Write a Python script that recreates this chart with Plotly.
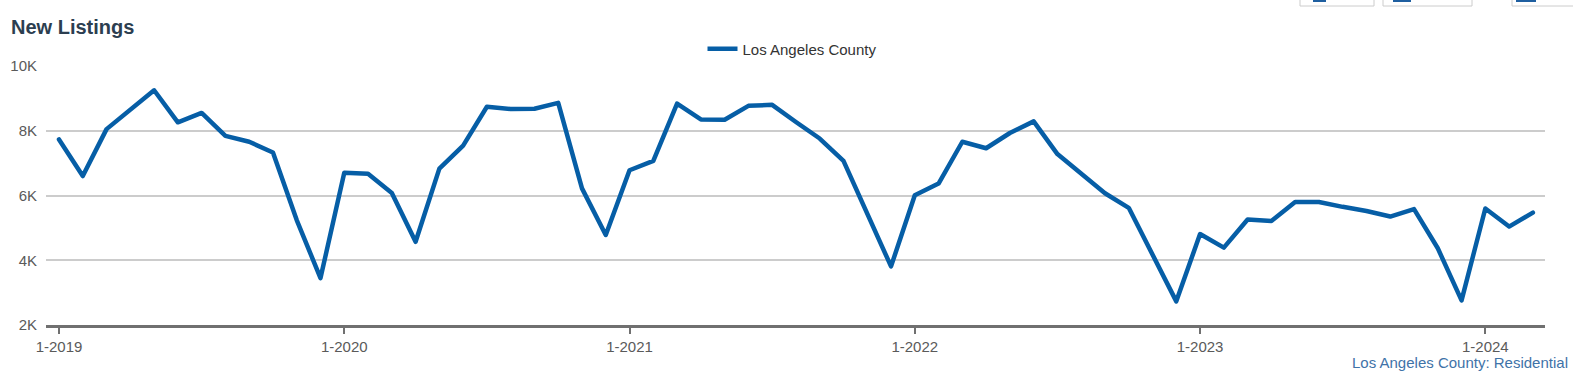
import plotly.graph_objects as go

months = [f"{m}-{y}" for y in range(2019, 2025) for m in range(1, 13)][:63]
values = [
    7730, 6600, 8050, 8650, 9250, 8260, 8550, 7840, 7660, 7330, 5240, 3450,
    6700, 6670, 6080, 4570, 6830, 7540, 8740, 8670, 8680, 8860, 6220, 4780,
    6780, 7070, 8840, 8350, 8340, 8770, 8800, 8270, 7760, 7070, 5450, 3810,
    6010, 6370, 7660, 7460, 7930, 8290, 7280, 6680, 6070, 5620, 4210, 2730,
    4810, 4390, 5260, 5210, 5800, 5800, 5650, 5520, 5350, 5580, 4370, 2760,
    5600, 5040, 5470,
]
series_name = "Los Angeles County"
x_tick_labels = ["1-2019", "1-2020", "1-2021", "1-2022", "1-2023", "1-2024"]
y_tick_vals = [2000, 4000, 6000, 8000, 10000]
y_tick_labels = ["2K", "4K", "6K", "8K", "10K"]

idx = list(range(len(values)))
tick_pos = [months.index(t) for t in x_tick_labels]

W, H = 1573, 375
L, R, T, B = 46, 28, 66, 50
pw, ph = W - L - R, H - T - B

def px(x):
    return (x - L) / pw

def py(y):
    return (H - B - y) / ph

fig = go.Figure()
fig.add_trace(go.Scatter(
    x=idx, y=values, mode="lines", name=series_name,
    line=dict(color="#065ea6", width=4.5),
    text=months, hovertemplate="%{text}: %{y}<extra></extra>",
))

shapes = []
# partial buttons at top right
for x0, x1 in [(1300, 1374), (1383, 1472), (1512, 1585)]:
    shapes.append(dict(type="rect", xref="paper", yref="paper",
                       x0=px(x0), x1=px(x1), y0=py(6), y1=py(-20),
                       line=dict(color="#cccccc", width=1), fillcolor="rgba(0,0,0,0)"))
for x0, x1 in [(1313, 1326), (1393, 1411), (1516, 1536)]:
    shapes.append(dict(type="line", xref="paper", yref="paper",
                       x0=px(x0), x1=px(x1), y0=py(1), y1=py(1),
                       line=dict(color="#1f5fa0", width=2)))

fig.update_layout(
    width=W, height=H,
    margin=dict(l=L, r=R, t=T, b=B, autoexpand=False),
    paper_bgcolor="white", plot_bgcolor="white",
    font=dict(family="Liberation Sans, Arial, sans-serif", size=15, color="#555555"),
    showlegend=True,
    legend=dict(orientation="h", x=px(792), xanchor="center", y=py(49), yanchor="middle",
                font=dict(size=15, color="#333333"), bgcolor="rgba(0,0,0,0)",
                itemwidth=30),
    xaxis=dict(range=[-0.547, 62.51], tickmode="array", tickvals=tick_pos, ticktext=x_tick_labels,
               showgrid=False, zeroline=False, showline=True, linecolor="#707070", linewidth=3,
               ticks="outside", ticklen=6, tickwidth=2, tickcolor="#707070",
               tickfont=dict(size=15, color="#5a5a5a")),
    yaxis=dict(range=[2000, 10000], tickmode="array", tickvals=y_tick_vals, ticktext=y_tick_labels,
               showgrid=True, gridcolor="#cccccc", gridwidth=2, zeroline=False, showline=False,
               ticks="", ticklabelstandoff=8, tickfont=dict(size=15, color="#5a5a5a")),
    annotations=[
        dict(text="<b>New Listings</b>", xref="paper", yref="paper", x=px(9), y=py(27),
             xanchor="left", yanchor="middle", showarrow=False,
             font=dict(size=20, color="#2c3e50")),
        dict(text="Los Angeles County: Residential", xref="paper", yref="paper",
             x=px(1570), y=py(362), xanchor="right", yanchor="middle", showarrow=False,
             font=dict(size=15, color="#3f73a8")),
    ],
    shapes=shapes,
    hovermode="closest",
)

post = (
    "document.body.style.margin='0';document.body.style.overflow='hidden';"
    "var s=document.createElement('style');"
    "s.textContent='.scatterlayer .js-line{stroke-linejoin:round;stroke-linecap:round;}';"
    "document.head.appendChild(s);"
)
fig.write_html("out.html", config={"displayModeBar": False}, post_script=post)
